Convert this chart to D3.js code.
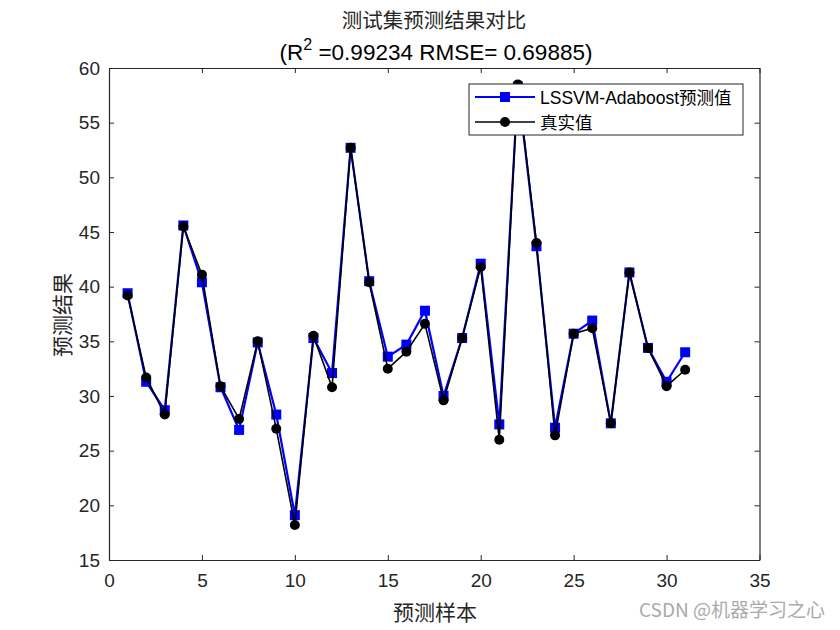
<!DOCTYPE html>
<html><head><meta charset="utf-8">
<script src="https://cdn.jsdelivr.net/npm/d3@7"></script>
<style>body{margin:0;background:#fff}svg{display:block}</style>
</head><body>
<svg id="c" width="840" height="630"></svg>
<script>
const samples = d3.range(1, 32);
const predicted = [39.4,31.3,28.7,45.6,40.4,30.8,26.9,34.9,28.3,19.1,35.3,32.1,52.7,40.5,33.6,34.7,37.8,30.0,35.3,42.1,27.4,58.3,43.7,27.1,35.7,36.9,27.5,41.3,34.4,31.3,34.0];
const actual    = [39.2,31.7,28.3,45.5,41.1,30.9,27.9,35.0,27.0,18.2,35.5,30.8,52.7,40.4,32.5,34.05,36.6,29.6,35.3,41.8,26.0,58.5,44.0,26.4,35.7,36.2,27.5,41.3,34.4,30.9,32.4];
const xTicks = [0,5,10,15,20,25,30,35];
const yTicks = [15,20,25,30,35,40,45,50,55,60];
const seriesNames = ["LSSVM-Adaboost预测值","真实值"];

const svg = d3.select("#c");
const L=109, R=759.5, T=68, B=560;
const x = d3.scaleLinear().domain([0,35]).range([L,R]);
const y = d3.scaleLinear().domain([15,60]).range([B,T]);
const tickFont = "'Liberation Sans', Arial, sans-serif";
const cjk = "'Noto Sans CJK SC', sans-serif";

// axes
const gx = svg.append("g").attr("transform",`translate(0,${B})`)
  .call(d3.axisBottom(x).tickValues(xTicks).tickSizeInner(-5).tickSizeOuter(0).tickPadding(14));
const gy = svg.append("g").attr("transform",`translate(${L},0)`)
  .call(d3.axisLeft(y).tickValues(yTicks).tickSizeInner(-5).tickSizeOuter(0).tickPadding(9));
const gxt = svg.append("g").attr("transform",`translate(0,${T})`)
  .call(d3.axisTop(x).tickValues(xTicks).tickSizeInner(-5).tickSizeOuter(0).tickFormat(""));
const gyr = svg.append("g").attr("transform",`translate(${R},0)`)
  .call(d3.axisRight(y).tickValues(yTicks).tickSizeInner(-5).tickSizeOuter(0).tickFormat(""));
[gx,gy,gxt,gyr].forEach(g=>{
  g.select(".domain").attr("stroke","#262626").attr("stroke-width",1.2);
  g.selectAll(".tick line").attr("stroke","#262626");
  g.selectAll(".tick text").attr("font-family",tickFont).attr("font-size",19).attr("fill","#262626");
});

// lines
const line = d3.line().x((d,i)=>x(samples[i])).y(d=>y(d));
svg.append("path").datum(predicted).attr("d",line).attr("fill","none").attr("stroke","#0000ff").attr("stroke-width",2.2);
svg.selectAll("rect.p").data(predicted).enter().append("rect").attr("class","p")
  .attr("x",(d,i)=>x(samples[i])-5).attr("y",d=>y(d)-5).attr("width",10).attr("height",10)
  .attr("fill","#0000ff");
svg.append("path").datum(actual).attr("d",line).attr("fill","none").attr("stroke","#000").attr("stroke-width",1.6);
svg.selectAll("circle.a").data(actual).enter().append("circle").attr("class","a")
  .attr("cx",(d,i)=>x(samples[i])).attr("cy",d=>y(d)).attr("r",5).attr("fill","#000");

// legend
const lg = svg.append("g").attr("transform","translate(469,84)");
lg.append("rect").attr("width",274).attr("height",51).attr("fill","#fff").attr("stroke","#262626").attr("stroke-width",1);
lg.append("line").attr("x1",6).attr("x2",66).attr("y1",13).attr("y2",13).attr("stroke","#0000ff").attr("stroke-width",2.2);
lg.append("rect").attr("x",31).attr("y",8).attr("width",10).attr("height",10).attr("fill","#0000ff");
lg.append("line").attr("x1",6).attr("x2",66).attr("y1",38).attr("y2",38).attr("stroke","#000").attr("stroke-width",1.6);
lg.append("circle").attr("cx",36).attr("cy",38).attr("r",5).attr("fill","#000");
lg.append("text").attr("x",71).attr("y",20).text(seriesNames[0]).attr("font-family",`'Liberation Sans', ${cjk}`).attr("font-size",17.5).attr("fill","#000");
lg.append("text").attr("x",71).attr("y",45).text(seriesNames[1]).attr("font-family",cjk).attr("font-size",17.5).attr("fill","#000");

// titles
svg.append("text").attr("x",434).attr("y",28).attr("text-anchor","middle").attr("font-family",cjk).attr("font-size",20.5).attr("fill","#262626").text("测试集预测结果对比");
const t2 = svg.append("text").attr("x",436).attr("y",60).attr("text-anchor","middle").attr("font-family",tickFont).attr("font-size",22.5).attr("fill","#000");
t2.append("tspan").text("(R");
t2.append("tspan").attr("dy",-10).attr("font-size",16).text("2");
t2.append("tspan").attr("dy",10).text(" =0.99234 RMSE= 0.69885)");
svg.append("text").attr("x",435).attr("y",620).attr("text-anchor","middle").attr("font-family",cjk).attr("font-size",21).attr("fill","#262626").text("预测样本");
svg.append("text").attr("transform","translate(70,315) rotate(-90)").attr("text-anchor","middle").attr("font-family",cjk).attr("font-size",21).attr("fill","#262626").text("预测结果");
svg.append("text").attr("x",825).attr("y",617).attr("text-anchor","end").attr("font-family",cjk).attr("font-size",19).attr("fill","#aaa").text("CSDN @机器学习之心");
</script>
</body></html>
